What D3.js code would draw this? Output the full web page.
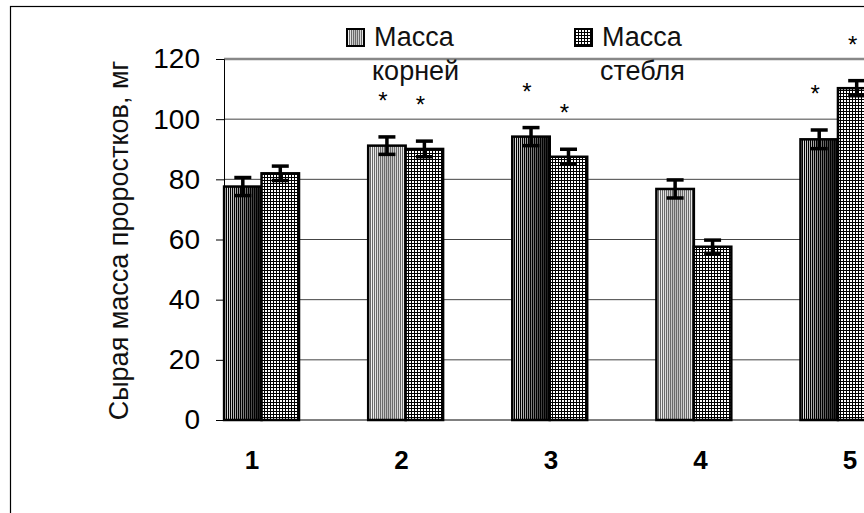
<!DOCTYPE html>
<html>
<head>
<meta charset="utf-8">
<script src="https://cdn.jsdelivr.net/npm/d3@7"></script>
<style>
  body { margin: 0; background: #fff; }
  svg { display: block; font-family: Arial, "Liberation Sans", sans-serif; }
</style>
</head>
<body>
<div id="chart"></div>
<script>
// data
var categories = ["1", "2", "3", "4", "5"];
var rootMass = [77.6, 91.2, 94.2, 76.8, 93.3];
var rootErr  = [3.0, 2.9, 3.0, 3.0, 3.1];
var stemMass = [82.0, 90.1, 87.5, 57.6, 110.3];
var stemErr  = [2.4, 2.6, 2.5, 2.2, 2.5];
var rootSig  = [false, true, true, false, true];
var stemSig  = [false, true, true, false, true];
var yTicks   = [0, 20, 40, 60, 80, 100, 120];
var seriesNames = [["Масса", "корней"], ["Масса", "стебля"]];
var yTitle = "Сырая масса проростков, мг";

var W = 864, H = 513;
var plot = {left: 224, top: 59, bottom: 420, right: 864};

var svg = d3.select("#chart").append("svg")
    .attr("width", W)
    .attr("height", H);

svg.append("rect")
    .attr("width", W).attr("height", H)
    .attr("fill", "#fff");

// fills
var defs = svg.append("defs");
var gDark = defs.append("linearGradient").attr("id", "gDark");
gDark.append("stop").attr("offset", "0").attr("stop-color", "#eee");
gDark.append("stop").attr("offset", "0.55").attr("stop-color", "#777");
gDark.append("stop").attr("offset", "1").attr("stop-color", "#111");
var gLight = defs.append("linearGradient").attr("id", "gLight");
gLight.append("stop").attr("offset", "0").attr("stop-color", "#fff");
gLight.append("stop").attr("offset", "0.5").attr("stop-color", "#b8b8b8");
gLight.append("stop").attr("offset", "1").attr("stop-color", "#eee");

var stripeDark = defs.append("pattern").attr("id", "stripeDark")
    .attr("patternUnits", "userSpaceOnUse").attr("width", 2).attr("height", 4);
stripeDark.append("rect").attr("width", 1).attr("height", 4).attr("fill", "#000");
var stripeLight = defs.append("pattern").attr("id", "stripeLight")
    .attr("patternUnits", "userSpaceOnUse").attr("width", 2).attr("height", 4);
stripeLight.append("rect").attr("width", 1).attr("height", 4).attr("fill", "#6a6a6a");

var hatch = defs.append("pattern").attr("id", "hatch")
    .attr("patternUnits", "userSpaceOnUse").attr("width", 3).attr("height", 3);
hatch.append("rect").attr("width", 3).attr("height", 3).attr("fill", "#fff");
hatch.append("path").attr("d", "M0,0.5H3M0.5,0V3")
    .attr("stroke", "#000").attr("stroke-width", 1);

// outer frame
svg.append("rect")
    .attr("x", 10.5).attr("y", 6.5)
    .attr("width", 1000).attr("height", 700)
    .attr("fill", "none").attr("stroke", "#000").attr("stroke-width", 1.2);

// scales
var y = d3.scaleLinear().domain([0, 120]).range([plot.bottom, plot.top]);
var x = d3.scaleBand().domain(categories).range([189.5, 910]);
var bw = x.bandwidth() * 0.26;
// labels under the groups sit a little more spread out than the bars
var xLabel = d3.scalePoint().domain(categories).range([252, 850]);

// gridlines
svg.append("g").selectAll("line")
    .data(yTicks.slice(1))
    .enter().append("line")
    .attr("x1", plot.left).attr("x2", plot.right)
    .attr("y1", function(d){ return y(d); })
    .attr("y2", function(d){ return y(d); })
    .attr("stroke", function(d){ return d == 120 ? "#888" : "#444"; })
    .attr("stroke-width", function(d){ return d == 120 ? 2.5 : 1; });

// baseline
svg.append("line")
    .attr("x1", plot.left).attr("x2", plot.right)
    .attr("y1", y(0)).attr("y2", y(0))
    .attr("stroke", "#808080").attr("stroke-width", 2);

// y axis
var yAxis = d3.axisLeft(y).tickValues(yTicks).tickSize(8).tickPadding(16);
var ga = svg.append("g")
    .attr("transform", "translate(" + plot.left + ",0)")
    .call(yAxis);
ga.select(".domain").attr("stroke", "#000").attr("stroke-width", 1);
ga.selectAll(".tick line").attr("stroke", "#000");
ga.selectAll(".tick text")
    .style("font-family", "Arial, 'Liberation Sans', sans-serif")
    .style("font-size", "28px")
    .attr("fill", "#000");

svg.append("text")
    .attr("transform", "translate(128," + ((plot.top + plot.bottom) / 2 + 1) + ") rotate(-90)")
    .attr("text-anchor", "middle")
    .style("font-size", "27px")
    .attr("fill", "#111")
    .text(yTitle);

// bars
var rows = categories.map(function(c, i) {
  return {cat: c, i: i,
    bars: [
      {s: 0, v: rootMass[i], e: rootErr[i], sig: rootSig[i]},
      {s: 1, v: stemMass[i], e: stemErr[i], sig: stemSig[i]}
    ]};
});

var groups = svg.append("g").selectAll("g")
    .data(rows)
    .enter().append("g");

function barX(row, b) {
  var cx = x(row.cat) + x.bandwidth() / 2;
  return b.s == 0 ? cx - bw : cx;
}

groups.each(function(row) {
  var g = d3.select(this);
  var dark = row.i % 2 == 0;
  row.bars.forEach(function(b) {
    var x0 = barX(row, b);
    if (b.s == 0) {
      g.append("rect")
          .attr("x", x0).attr("y", y(b.v))
          .attr("width", bw).attr("height", y(0) - y(b.v))
          .attr("fill", dark ? "url(#gDark)" : "url(#gLight)");
      g.append("rect")
          .attr("x", x0).attr("y", y(b.v))
          .attr("width", bw).attr("height", y(0) - y(b.v))
          .attr("fill", dark ? "url(#stripeDark)" : "url(#stripeLight)")
          .attr("stroke", "#000").attr("stroke-width", 2.5);
    } else {
      g.append("rect")
          .attr("x", x0).attr("y", y(b.v))
          .attr("width", bw).attr("height", y(0) - y(b.v))
          .attr("fill", "url(#hatch)")
          .attr("stroke", "#000").attr("stroke-width", 2.5);
    }
    // error bar
    var cx = x0 + bw / 2;
    g.append("line")
        .attr("x1", cx).attr("x2", cx)
        .attr("y1", y(b.v - b.e)).attr("y2", y(b.v + b.e))
        .attr("stroke", "#000").attr("stroke-width", 3.5);
    [b.v - b.e, b.v + b.e].forEach(function(v) {
      g.append("line")
          .attr("x1", cx - 8.5).attr("x2", cx + 8.5)
          .attr("y1", y(v)).attr("y2", y(v))
          .attr("stroke", "#000").attr("stroke-width", 3.5);
    });
    if (b.sig) {
      g.append("text")
          .attr("x", cx - 4)
          .attr("y", y(b.v + b.e) - 42 + 14)
          .attr("text-anchor", "middle")
          .style("font-size", "24px")
          .text("*");
    }
  });
});

// category labels
svg.append("g").selectAll("text")
    .data(categories)
    .enter().append("text")
    .attr("x", function(d){ return xLabel(d); })
    .attr("y", 469)
    .attr("text-anchor", "middle")
    .style("font-size", "26px")
    .style("font-weight", "bold")
    .text(function(d){ return d; });

// legend
var legX = [347, 575];
var leg = svg.append("g").selectAll("g")
    .data(seriesNames)
    .enter().append("g")
    .attr("transform", function(d, i){ return "translate(" + legX[i] + ",29)"; });

leg.each(function(d, i) {
  var g = d3.select(this);
  if (i == 0) {
    g.append("rect").attr("width", 17).attr("height", 17).attr("fill", "url(#gLight)");
    g.append("rect").attr("width", 17).attr("height", 17)
        .attr("fill", "url(#stripeLight)").attr("stroke", "#000").attr("stroke-width", 2);
  } else {
    g.append("rect").attr("width", 17).attr("height", 17)
        .attr("fill", "url(#hatch)").attr("stroke", "#000").attr("stroke-width", 2);
  }
  g.append("text")
      .attr("x", 27).attr("y", 17)
      .style("font-size", "27px")
      .attr("fill", "#111")
      .text(d[0]);
  g.append("text")
      .attr("x", 25).attr("y", 51)
      .style("font-size", "27px")
      .attr("fill", "#111")
      .text(d[1]);
});
</script>
</body>
</html>
